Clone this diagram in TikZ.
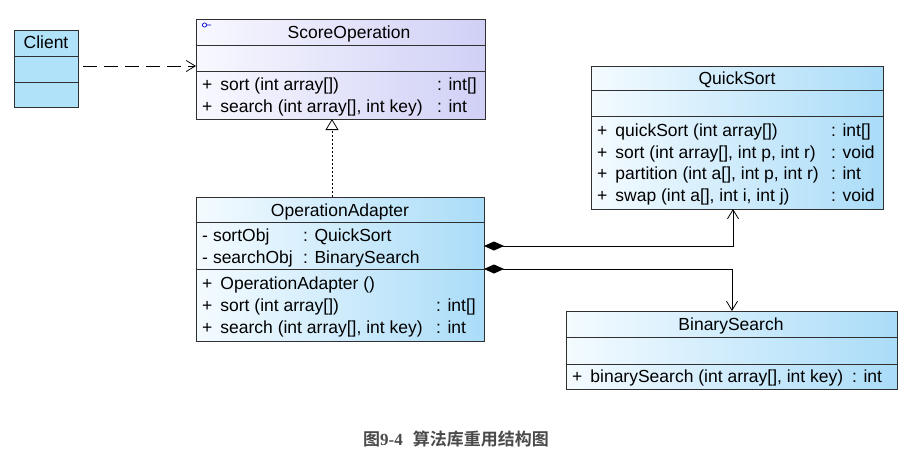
\documentclass[tikz,border=0pt]{standalone}
\usepackage{fontspec}
\setmainfont{Liberation Sans}
\newfontfamily\umlfont{Liberation Sans}
\newfontfamily\cjkb{Noto Sans CJK SC Bold}
\newfontfamily\capserif{Liberation Serif}
\usetikzlibrary{arrows.meta}
\definecolor{lav}{HTML}{D0D0F6}
\definecolor{lavl}{HTML}{F8F8FF}
\definecolor{blu}{HTML}{AADCF8}
\definecolor{blul}{HTML}{F4FBFF}
\definecolor{cli}{HTML}{B0E2FA}
\definecolor{capc}{HTML}{4A4A4A}
\definecolor{edge}{HTML}{303030}
\newcommand\umlpub{+\hspace{8pt}}
\newcommand\umlpriv{-\hspace{5pt}}
\tikzset{
  umlbox/.style={draw=edge, line width=0.9pt, anchor=north west, inner sep=0pt, outer sep=0pt},
  lavbox/.style={umlbox, left color=lavl, right color=lav},
  blubox/.style={umlbox, left color=blul, right color=blu},
  clibox/.style={umlbox, fill=cli},
  sep/.style={draw=edge, line width=0.9pt},
  txt/.style={anchor=base west, inner sep=0pt, font=\umlfont\fontsize{17.5}{20}\selectfont},
  ttl/.style={anchor=base, inner sep=0pt, font=\umlfont\fontsize{17.5}{20}\selectfont},
  depend/.style={draw=black, line width=0.8pt, dash pattern=on 14pt off 7pt, -{Straight Barb[length=9pt,width=11pt]}},
  realize/.style={draw=black, line width=0.8pt, dash pattern=on 2pt off 2pt, -{Triangle[open,length=11pt,width=13pt,line width=0.8pt]}},
  compose/.style={draw=black, line width=0.8pt, {Diamond[length=20pt,width=9pt]}-{Straight Barb[length=9pt,width=11pt]}},
}
\begin{document}
\begin{tikzpicture}[x=1pt,y=-1pt]
\useasboundingbox (0,0) rectangle (913,459);
% Client
\node[clibox, minimum width=64pt, minimum height=77pt] (cl) at (14,30) {};
\draw[sep] (cl.west |- 0,56) -- (cl.east |- 0,56);
\draw[sep] (cl.west |- 0,82) -- (cl.east |- 0,82);
\node[ttl] (clt) at (46,48) {Client};
% ScoreOperation
\node[lavbox, minimum width=289pt, minimum height=100pt] (so) at (196,19) {};
\draw[sep] (so.west |- 0,45) -- (so.east |- 0,45);
\draw[sep] (so.west |- 0,71) -- (so.east |- 0,71);
\draw[blue!80!black, line width=0.7pt] (204.5,25) circle (2.1pt) (206.6,25) -- (211,25);
\node[ttl] (sot) at (349,38) {ScoreOperation};
\node[txt] (so1) at (202,90) {\umlpub sort (int array[])};
\node[txt] (so1t) at (437,90) {: int[]};
\node[txt] (so2) at (202,112) {\umlpub search (int array[], int key)};
\node[txt] (so2t) at (437,112) {: int};
% QuickSort
\node[blubox, minimum width=292pt, minimum height=143pt] (qs) at (591,66) {};
\draw[sep] (qs.west |- 0,90) -- (qs.east |- 0,90);
\draw[sep] (qs.west |- 0,116) -- (qs.east |- 0,116);
\node[ttl] (qst) at (737,84) {QuickSort};
\node[txt] (qs1) at (597,136) {\umlpub quickSort (int array[])};
\node[txt] (qs1t) at (831,136) {: int[]};
\node[txt] (qs2) at (597,158) {\umlpub sort (int array[], int p, int r)};
\node[txt] (qs2t) at (831,158) {: void};
\node[txt] (qs3) at (597,179) {\umlpub partition (int a[], int p, int r)};
\node[txt] (qs3t) at (831,179) {: int};
\node[txt] (qs4) at (597,201) {\umlpub swap (int a[], int i, int j)};
\node[txt] (qs4t) at (831,201) {: void};
% OperationAdapter
\node[blubox, minimum width=288pt, minimum height=144pt] (oa) at (196,197) {};
\draw[sep] (oa.west |- 0,222) -- (oa.east |- 0,222);
\draw[sep] (oa.west |- 0,269) -- (oa.east |- 0,269);
\node[ttl] (oat) at (340,216) {OperationAdapter};
\node[txt] (oa1) at (202,241) {\umlpriv sortObj};
\node[txt] (oa1t) at (303,241) {: QuickSort};
\node[txt] (oa2) at (202,263) {\umlpriv searchObj};
\node[txt] (oa2t) at (303,263) {: BinarySearch};
\node[txt] (oa3) at (202,289) {\umlpub OperationAdapter ()};
\node[txt] (oa4) at (202,311) {\umlpub sort (int array[])};
\node[txt] (oa4t) at (436,311) {: int[]};
\node[txt] (oa5) at (202,333) {\umlpub search (int array[], int key)};
\node[txt] (oa5t) at (436,333) {: int};
% BinarySearch
\node[blubox, minimum width=331pt, minimum height=78pt] (bs) at (566,311) {};
\draw[sep] (bs.west |- 0,337) -- (bs.east |- 0,337);
\draw[sep] (bs.west |- 0,364) -- (bs.east |- 0,364);
\node[ttl] (bst) at (731,330) {BinarySearch};
\node[txt] (bs1) at (572,382) {\umlpub binarySearch (int array[], int key)};
\node[txt] (bs1t) at (852,382) {: int};
% connectors
\draw[depend, shorten <=5pt] (cl.east |- 0,66) -- (so.west |- 0,66);
\draw[realize] (oa.north -| 332,0) -- (so.south -| 332,0);
\draw[compose] (oa.east |- 0,246) -| (qs.south -| 733,0);
\draw[compose] (oa.east |- 0,269) -| (bs.north -| 732,0);
% caption
\node[anchor=base, inner sep=0pt, text=capc, font=\fontsize{17}{20}\selectfont] (cap) at (456,445)
  {{\cjkb 图}{\capserif\bfseries 9-4}\hspace{10pt}{\cjkb 算法库重用结构图}};
\end{tikzpicture}
\end{document}
